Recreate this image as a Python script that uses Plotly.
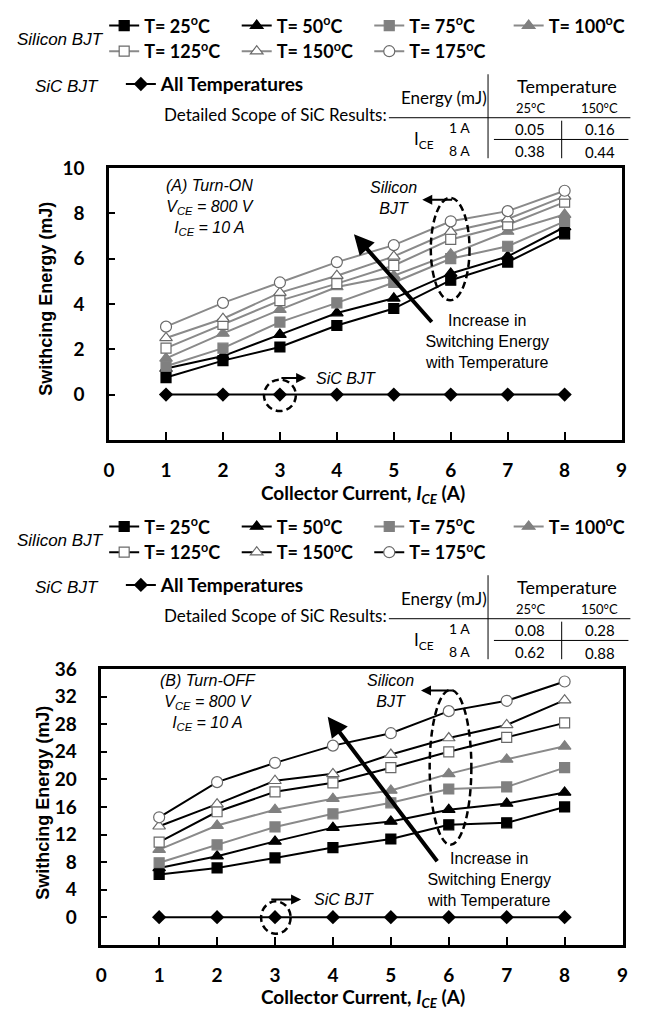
import plotly.graph_objects as go

W, H = 658, 1010

# ---- data -------------------------------------------------------------
current = [1, 2, 3, 4, 5, 6, 7, 8]
x_tick_labels = ["0", "1", "2", "3", "4", "5", "6", "7", "8", "9"]
temperature_labels = ["T= 25<sup>o</sup>C", "T= 50<sup>o</sup>C", "T= 75<sup>o</sup>C",
                      "T= 100<sup>o</sup>C", "T= 125<sup>o</sup>C", "T= 150<sup>o</sup>C",
                      "T= 175<sup>o</sup>C"]

# Turn-ON switching energy of the Si BJT (mJ)
on_25 = [0.75, 1.5, 2.1, 3.05, 3.8, 5.05, 5.85, 7.1]
on_50 = [1.15, 1.7, 2.65, 3.6, 4.25, 5.35, 6.1, 7.4]
on_75 = [1.25, 2.05, 3.2, 4.05, 4.95, 6.0, 6.55, 7.65]
on_100 = [1.6, 2.7, 3.75, 4.75, 5.25, 6.2, 7.2, 7.95]
on_125 = [2.05, 3.1, 4.15, 4.9, 5.7, 6.85, 7.5, 8.5]
on_150 = [2.5, 3.35, 4.5, 5.25, 6.1, 7.2, 7.75, 8.75]
on_175 = [3.0, 4.05, 4.95, 5.85, 6.6, 7.65, 8.1, 9.0]

# Turn-OFF switching energy of the Si BJT (mJ)
off_25 = [6.2, 7.15, 8.6, 10.1, 11.35, 13.4, 13.7, 16.0]
off_50 = [7.15, 8.85, 11.0, 13.0, 13.9, 15.6, 16.5, 18.1]
off_75 = [7.9, 10.5, 13.1, 15.0, 16.6, 18.6, 18.9, 21.7]
off_100 = [9.8, 13.3, 15.6, 17.2, 18.4, 20.8, 22.9, 24.8]
off_125 = [10.9, 15.3, 18.2, 19.5, 21.7, 24.0, 26.1, 28.2]
off_150 = [13.2, 16.4, 19.8, 20.8, 23.6, 26.0, 27.9, 31.5]
off_175 = [14.5, 19.6, 22.4, 24.9, 26.7, 29.9, 31.4, 34.2]

# SiC BJT (all temperatures) on the chart scale
sic_on = [0, 0, 0, 0, 0, 0, 0, 0]
sic_off = [0, 0, 0, 0, 0, 0, 0, 0]

# Detailed SiC values (mJ): rows 1 A / 8 A, columns 25 C / 150 C
sic_table_on = [["0.05", "0.16"], ["0.38", "0.44"]]
sic_table_off = [["0.08", "0.28"], ["0.62", "0.88"]]

# ---- styling ----------------------------------------------------------
CAL = "Lato"
ARIAL = "Liberation Sans, Arial"
GREY = "#808080"
LGREY = "#8a8a8a"


def px(x):
    return x / W


def py(y):
    return 1 - y / H


# (symbol, fill, outline, line colour in chart A, line colour in chart B)
styles = [
    ("square", "black", "black", "black", "black"),
    ("triangle-up", "black", "black", "black", "black"),
    ("square", GREY, GREY, LGREY, LGREY),
    ("triangle-up", GREY, GREY, LGREY, LGREY),
    ("square", "white", "#6a6a6a", LGREY, "black"),
    ("triangle-up", "white", "#6a6a6a", LGREY, "black"),
    ("circle", "white", "#6a6a6a", LGREY, "black"),
]
msize = {"square": 10, "triangle-up": 11, "circle": 11}

# legend slots: (text start x, row y) in px, for the header block of chart A
slots = [(141, 18), (276, 18), (411, 18), (553, 18), (141, 44), (276, 44), (411, 44)]
sic_slot = (158, 77)
B_OFF = 507  # vertical offset of chart B relative to chart A
LEG_FONT = dict(family=CAL, size=18, color="black", weight="bold")

fig = go.Figure()

charts = [
    (0, "x", "y", [on_25, on_50, on_75, on_100, on_125, on_150, on_175], sic_on),
    (1, "x2", "y2", [off_25, off_50, off_75, off_100, off_125, off_150, off_175], sic_off),
]

layout_legends = {}
for k, xa, ya, series, sic in charts:
    off = k * B_OFF
    for i, (vals, (sym, fill, outl, lcA, lcB)) in enumerate(zip(series, styles)):
        lname = "legend" if (k == 0 and i == 0) else f"legend{k * 8 + i + 1}"
        fig.add_trace(go.Scatter(
            x=current, y=vals, xaxis=xa, yaxis=ya, mode="lines+markers",
            name=temperature_labels[i], legend=lname,
            line=dict(color=lcA if k == 0 else lcB, width=2),
            marker=dict(symbol=sym, size=msize[sym], color=fill,
                        line=dict(color=outl, width=1.2)),
        ))
        tx, ty = slots[i]
        layout_legends[lname] = dict(
            x=px(tx - 41), y=py(ty + off - 4), xanchor="left", yanchor="middle",
            bgcolor="rgba(0,0,0,0)", borderwidth=0, itemwidth=30, font=LEG_FONT,
        )
    lname = f"legend{k * 8 + 8}"
    fig.add_trace(go.Scatter(
        x=current, y=sic, xaxis=xa, yaxis=ya, mode="lines+markers",
        name="All Temperatures", legend=lname,
        line=dict(color="black", width=2),
        marker=dict(symbol="diamond", size=11, color="black"),
    ))
    layout_legends[lname] = dict(
        x=px(sic_slot[0] - 41), y=py(sic_slot[1] + off - 4), xanchor="left", yanchor="middle",
        bgcolor="rgba(0,0,0,0)", borderwidth=0, itemwidth=30,
        font=dict(LEG_FONT, size=19),
    )

annotations = []
shapes = []


def txt(x, y, text, size, family=CAL, xanchor="center", color="black"):
    annotations.append(dict(
        x=px(x), y=py(y), xref="paper", yref="paper", text=text, showarrow=False,
        xanchor=xanchor, yanchor="middle", font=dict(family=family, size=size, color=color),
    ))


def hline(x0, x1, y, w=1):
    shapes.append(dict(type="line", xref="paper", yref="paper", x0=px(x0), x1=px(x1),
                       y0=py(y), y1=py(y), line=dict(color="black", width=w)))


def vline(x, y0, y1, w=1):
    shapes.append(dict(type="line", xref="paper", yref="paper", x0=px(x), x1=px(x),
                       y0=py(y0), y1=py(y1), line=dict(color="black", width=w)))


# ---- header blocks (legend labels + SiC table) ------------------------
for k, table in [(0, sic_table_on), (1, sic_table_off)]:
    o = k * B_OFF
    txt(56, 28 + o, "<i>Silicon BJT</i>", 17, ARIAL)
    txt(62, 75 + o, "<i>SiC BJT</i>", 17, ARIAL)
    txt(274, 104 + o, "Detailed Scope of SiC Results:", 17)
    txt(446, 87 + o, "Energy (mJ)", 17)
    txt(571, 75 + o, "Temperature", 18)
    txt(534, 97 + o, "25°C", 13)
    txt(605, 97 + o, "150°C", 13)
    txt(462, 117 + o, "1 A", 14)
    txt(462, 140 + o, "8 A", 14)
    txt(426, 130 + o, "I<sub>CE</sub>", 17)
    txt(534, 118 + o, table[0][0], 15)
    txt(605, 118 + o, table[0][1], 15)
    txt(534, 141 + o, table[1][0], 15)
    txt(605, 142 + o, table[1][1], 15)
    hline(390, 636, 107 + o)
    hline(497, 634, 129 + o)
    vline(491, 63 + o, 148 + o)
    vline(566, 110 + o, 148 + o)

# ---- axis titles --------------------------------------------------------
txt(40, 290, "<b>Swithcing Energy (mJ)</b>", 18, ARIAL)
annotations[-1]["textangle"] = -90
txt(38, 800, "<b>Swithcing Energy (mJ)</b>", 18, ARIAL)
annotations[-1]["textangle"] = -90
txt(364, 488, "<b>Collector Current, <i>I<sub>CE</sub></i> (A)</b>", 19)
txt(364, 998, "<b>Collector Current, <i>I<sub>CE</sub></i> (A)</b>", 19)


# ---- in-plot callouts -----------------------------------------------------
def dtext(xr, yr, x, y, text, italic=True):
    t = "<br>".join(f"<i>{s}</i>" if italic else s for s in text.split("<br>"))
    annotations.append(dict(x=x, y=y, xref=xr, yref=yr, text=t, showarrow=False,
                            xanchor="center", yanchor="middle",
                            font=dict(family=ARIAL, size=16, color="black")))


def arrow(xr, yr, x, y, ax, ay, w, head=2):
    annotations.append(dict(x=x, y=y, ax=ax, ay=ay, xref=xr, yref=yr, axref=xr, ayref=yr,
                            text="", showarrow=True, arrowhead=head, arrowwidth=w,
                            arrowsize=1, arrowcolor="black"))


def ellipse(xr, yr, x0, x1, y0, y1):
    shapes.append(dict(type="circle", xref=xr, yref=yr, x0=x0, x1=x1, y0=y0, y1=y1,
                       line=dict(color="black", width=2.5, dash="7px,4px")))


# chart A
dtext("x", "y", 1.77, 8.27, "(A) Turn-ON<br>V<sub>CE</sub> = 800 V<br>I<sub>CE</sub> = 10 A")
dtext("x", "y", 5.0, 8.7, "Silicon<br>BJT")
dtext("x", "y", 6.64, 2.36, "Increase in<br>Switching Energy<br>with Temperature", italic=False)
annotations.append(dict(x=3.6, y=0.73, xref="x", yref="y", text="<i>SiC BJT</i>",
                        showarrow=False, xanchor="left", yanchor="middle",
                        font=dict(family=ARIAL, size=16, color="black")))
ellipse("x", "y", 5.65, 6.33, 4.16, 8.69)
ellipse("x", "y", 2.72, 3.28, -0.73, 0.66)
arrow("x", "y", 4.30, 7.08, 5.69, 3.14, 4)
arrow("x", "y", 5.5, 8.6, 6.05, 8.6, 2)
arrow("x", "y", 3.46, 0.73, 3.0, 0.73, 2)

# chart B
dtext("x2", "y2", 1.85, 31.2, "(B) Turn-OFF<br>V<sub>CE</sub> = 800 V<br>I<sub>CE</sub> = 10 A")
dtext("x2", "y2", 5.0, 32.8, "Silicon<br>BJT")
dtext("x2", "y2", 6.7, 5.5, "Increase in<br>Switching Energy<br>with Temperature", italic=False)
annotations.append(dict(x=3.64, y=2.56, xref="x2", yref="y2", text="<i>SiC BJT</i>",
                        showarrow=False, xanchor="left", yanchor="middle",
                        font=dict(family=ARIAL, size=16, color="black")))
ellipse("x2", "y2", 5.67, 6.39, 10.5, 33.0)
ellipse("x2", "y2", 2.76, 3.27, -2.4, 2.3)
arrow("x2", "y2", 3.91, 29.1, 5.82, 7.9, 4)
arrow("x2", "y2", 5.52, 32.9, 6.09, 32.9, 2)
arrow("x2", "y2", 3.45, 2.56, 2.91, 2.56, 2)

# ---- axes -----------------------------------------------------------------
xcommon = dict(range=[0, 9], tickmode="array", tickvals=list(range(10)), ticktext=x_tick_labels,
               ticks="inside", ticklen=8, tickwidth=2, tickcolor="black",
               showline=True, linewidth=2.5, linecolor="black", mirror=True,
               showgrid=False, zeroline=False, ticklabelstandoff=12,
               tickfont=dict(family=CAL, size=19, color="black", weight="bold"))
ycommon = dict(ticks="inside", ticklen=6, tickwidth=2, tickcolor="black",
               showline=True, linewidth=2.5, linecolor="black", mirror=True,
               showgrid=False, zeroline=False, ticklabelstandoff=18,
               tickfont=dict(family=CAL, size=19, color="black", weight="bold"))

fig.update_layout(
    width=W, height=H, margin=dict(l=0, r=0, t=0, b=0),
    paper_bgcolor="white", plot_bgcolor="white",
    xaxis=dict(domain=[px(105), px(627)], anchor="y", **xcommon),
    yaxis=dict(domain=[py(433), py(158)], anchor="x", range=[-2, 10],
               tickvals=[0, 2, 4, 6, 8, 10], **ycommon),
    xaxis2=dict(domain=[px(97), px(628)], anchor="y2", **xcommon),
    yaxis2=dict(domain=[py(944), py(665)], anchor="x2", range=[-4, 36],
                tickvals=[0, 4, 8, 12, 16, 20, 24, 28, 32, 36], **ycommon),
    annotations=annotations, shapes=shapes, showlegend=True,
    **layout_legends,
)

# the page body gets no default margin so the figure sits at the window's corner
fig.write_html("out.html", config={"displayModeBar": False},
               post_script="document.body.style.margin='0';")
